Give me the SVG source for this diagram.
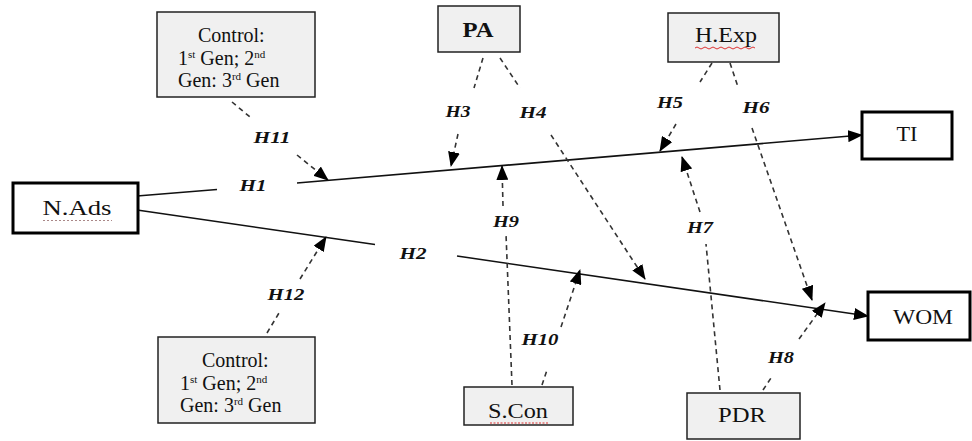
<svg xmlns="http://www.w3.org/2000/svg" width="972" height="441" viewBox="0 0 972 441">
<style>
text{font-family:"Liberation Serif","Times New Roman",serif;fill:#111}
.gbox{fill:#f0f0f0;stroke:#222;stroke-width:1.5}
.wbox{fill:#fff;stroke:#000;stroke-width:3}
.node{font-size:20px;text-anchor:middle}
.ctl{font-size:20px}
.lbl{font-size:17px;font-weight:bold;font-style:italic;text-anchor:middle}
.solid{stroke:#111;stroke-width:1.6;fill:none}
.dash{stroke:#333;stroke-width:1.6;fill:none;stroke-dasharray:5 4}
.spell{fill:none;stroke:#d33;stroke-width:1}
</style>
<defs>
<marker id="ah" markerWidth="15" markerHeight="12" refX="14" refY="6" orient="auto" markerUnits="userSpaceOnUse"><path d="M0,0 L15,6 L0,12 z" fill="#000"/></marker>
</defs>
<g id="connectors">
<path class="solid" d="M137,196 L217,189.5"/>
<path class="solid" d="M297,183 L862,135" marker-end="url(#ah)"/>
<path class="solid" d="M137,210 L375,244.5"/>
<path class="solid" d="M457,256 L868,316" marker-end="url(#ah)"/>
<path class="dash" d="M232,102 L250,117"/>
<path class="dash" d="M297,155 L328,180" marker-end="url(#ah)"/>
<path class="dash" d="M483,58 L474,88"/>
<path class="dash" d="M458,134 L451,166" marker-end="url(#ah)"/>
<path class="dash" d="M500,58 L520,88"/>
<path class="dash" d="M551,135 L645,279" marker-end="url(#ah)"/>
<path class="dash" d="M712,63 L700,82"/>
<path class="dash" d="M676,124 L660,151" marker-end="url(#ah)"/>
<path class="dash" d="M730,63 L738,87"/>
<path class="dash" d="M752,128 L812,300" marker-end="url(#ah)"/>
<path class="dash" d="M512,385 L506,234"/>
<path class="dash" d="M503,206 L502,166" marker-end="url(#ah)"/>
<path class="dash" d="M542,385 L547,370"/>
<path class="dash" d="M561,327 L580,270" marker-end="url(#ah)"/>
<path class="dash" d="M720,390 L706,244"/>
<path class="dash" d="M700,212 L682,157" marker-end="url(#ah)"/>
<path class="dash" d="M763,390 L771,378"/>
<path class="dash" d="M799,339 L825,303" marker-end="url(#ah)"/>
<path class="dash" d="M267,333 L279,313"/>
<path class="dash" d="M300,279 L326,237" marker-end="url(#ah)"/>
<text class="lbl" x="272" y="143" textLength="37" lengthAdjust="spacingAndGlyphs">H11</text>
<text class="lbl" x="253" y="191" textLength="27" lengthAdjust="spacingAndGlyphs">H1</text>
<text class="lbl" x="413" y="259" textLength="27" lengthAdjust="spacingAndGlyphs">H2</text>
<text class="lbl" x="458" y="117" textLength="25" lengthAdjust="spacingAndGlyphs">H3</text>
<text class="lbl" x="533" y="118" textLength="27" lengthAdjust="spacingAndGlyphs">H4</text>
<text class="lbl" x="670" y="108" textLength="26" lengthAdjust="spacingAndGlyphs">H5</text>
<text class="lbl" x="756" y="113" textLength="27" lengthAdjust="spacingAndGlyphs">H6</text>
<text class="lbl" x="506" y="227" textLength="26" lengthAdjust="spacingAndGlyphs">H9</text>
<text class="lbl" x="540" y="345" textLength="37" lengthAdjust="spacingAndGlyphs">H10</text>
<text class="lbl" x="700" y="233" textLength="26" lengthAdjust="spacingAndGlyphs">H7</text>
<text class="lbl" x="781" y="363" textLength="26" lengthAdjust="spacingAndGlyphs">H8</text>
<text class="lbl" x="286" y="300" textLength="37" lengthAdjust="spacingAndGlyphs">H12</text>
</g>
<g id="ctl-top">
<rect class="gbox" x="157" y="12" width="158" height="85"/>
<text class="ctl" x="198" y="42">Control:</text>
<text class="ctl" x="178" y="65">1<tspan font-size="11" dy="-7">st</tspan><tspan dy="7"> Gen; 2</tspan><tspan font-size="11" dy="-7">nd</tspan></text>
<text class="ctl" x="178" y="87">Gen: 3<tspan font-size="11" dy="-7">rd</tspan><tspan dy="7"> Gen</tspan></text>
</g>
<g id="ctl-bottom">
<rect class="gbox" x="158" y="337" width="157" height="86"/>
<text class="ctl" x="202" y="367">Control:</text>
<text class="ctl" x="180" y="390">1<tspan font-size="11" dy="-7">st</tspan><tspan dy="7"> Gen; 2</tspan><tspan font-size="11" dy="-7">nd</tspan></text>
<text class="ctl" x="180" y="412">Gen: 3<tspan font-size="11" dy="-7">rd</tspan><tspan dy="7"> Gen</tspan></text>
</g>
<g id="nads">
<rect class="wbox" x="13" y="183" width="125" height="50"/>
<text class="node" x="77" y="215" font-size="21" textLength="69" lengthAdjust="spacingAndGlyphs">N.Ads</text>
<path d="M43,220.5 H112" fill="none" stroke="#a88" stroke-width="1" stroke-dasharray="2 2"/>
</g>
<g id="pa">
<rect class="gbox" x="438" y="6" width="82" height="46"/>
<text class="node" x="478" y="37" font-weight="bold" font-size="19" textLength="31" lengthAdjust="spacingAndGlyphs">PA</text>
</g>
<g id="hexp">
<rect class="gbox" x="668" y="13" width="111" height="49"/>
<text class="node" x="726" y="42" textLength="62" lengthAdjust="spacingAndGlyphs">H.Exp</text>
<path class="spell" d="M695,48 q2,-2 4,0 t4,0 t4,0 t4,0 t4,0 t4,0 t4,0 t4,0 t4,0 t4,0 t4,0 t4,0 t4,0 t4,0 t4,0"/>
</g>
<g id="ti">
<rect class="wbox" x="862" y="112" width="90" height="47"/>
<text class="node" x="907" y="141" textLength="21" lengthAdjust="spacingAndGlyphs">TI</text>
</g>
<g id="wom">
<rect class="wbox" x="868" y="292" width="102" height="48"/>
<text class="node" x="923" y="324" textLength="60" lengthAdjust="spacingAndGlyphs">WOM</text>
</g>
<g id="scon">
<rect class="gbox" x="464" y="387" width="109" height="38"/>
<text class="node" x="518" y="418" textLength="60" lengthAdjust="spacingAndGlyphs">S.Con</text>
<path class="spell" d="M490,423 H548" stroke-dasharray="2 1.5"/>
</g>
<g id="pdr">
<rect class="gbox" x="687" y="393" width="113" height="46"/>
<text class="node" x="742" y="422" textLength="48" lengthAdjust="spacingAndGlyphs">PDR</text>
</g>
</svg>
